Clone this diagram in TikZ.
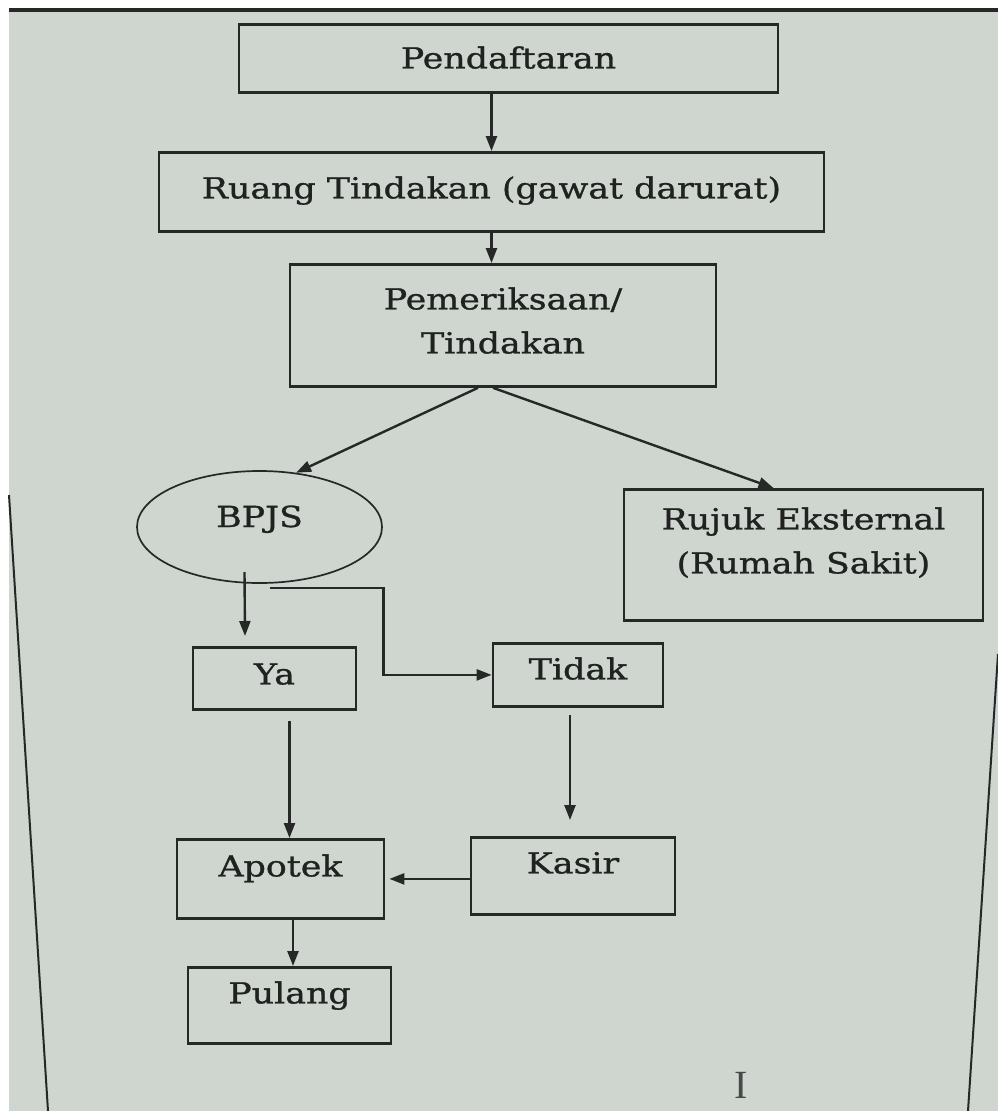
\documentclass[tikz,border=0pt]{standalone}
\usepackage{fontspec}
\usetikzlibrary{arrows.meta,calc,shapes.geometric}
\newfontfamily\diagfont[FakeStretch=1.2,FakeBold=1]{DejaVu Serif}
\newfontfamily\cursfont{Liberation Serif}
\definecolor{bgc}{RGB}{207,213,207}
\definecolor{linec}{RGB}{38,40,40}
\definecolor{txtc}{RGB}{32,33,33}
\tikzset{
  box/.style={draw=linec, line width=2.8pt, inner xsep=0pt, inner ysep=0pt, anchor=north,
    text=txtc, font=\diagfont\fontsize{29}{44}\selectfont},
  oval/.style={ellipse, draw=linec, line width=1.7pt, inner sep=0pt,
    text=txtc, font=\diagfont\fontsize{29}{44}\selectfont},
  arr/.style={draw=linec, line width=2.4pt, -{Triangle[length=15pt,width=11pt]}},
  frame/.style={draw=linec, line width=2pt}
}
\begin{document}
\begin{tikzpicture}[x=1pt,y=-1pt]
\useasboundingbox (0,0) rectangle (998,1111);
\fill[white] (0,0) rectangle (998,1111);
\fill[bgc] (9,8) rectangle (998,1111);
\draw[linec, line width=3.2pt] (9,10) -- (998,10);
\draw[frame] (9,495) -- (48,1111);
\draw[frame] (998,654) -- (968,1111);

\node[box, minimum width=539pt, text height=44pt, text depth=24pt] (pend) at (508.5,23) {Pendaftaran};
\node[box, minimum width=665pt, text height=46pt, text depth=33pt] (ruang) at (491.5,151) {Ruang Tindakan (gawat darurat)};
\node[box, minimum width=426pt, align=center, text height=89pt, text depth=33pt] (pem) at (503,263) {Pemeriksaan/\\Tindakan};
\node[oval, minimum width=245pt, minimum height=112pt, text height=12pt, text depth=12pt] (bpjs) at (259.5,527) {BPJS};
\node[box, minimum width=359pt, align=center, text height=84pt, text depth=47pt] (rujuk) at (803.5,488) {Rujuk Eksternal\\(Rumah Sakit)};
\node[box, minimum width=163pt, text height=37pt, text depth=25pt] (ya) at (274.5,646) {Ya};
\node[box, minimum width=170pt, text height=36pt, text depth=27pt] (tidak) at (578,642) {Tidak};
\node[box, minimum width=207pt, text height=37pt, text depth=42pt] (apotek) at (280.5,838) {Apotek};
\node[box, minimum width=204pt, text height=36pt, text depth=41pt] (kasir) at (573,836) {Kasir};
\node[box, minimum width=203pt, text height=36pt, text depth=40pt] (pulang) at (289.5,966) {Pulang};
\node[text=linec!85, font=\cursfont\fontsize{40}{40}\selectfont, inner sep=0pt] (cur) at (741,1085) {I};

\draw[arr] (pend.south -| ruang.north) -- (ruang.north);
\draw[arr] (ruang.south) -- (ruang.south |- pem.north);
\draw[arr] ($(pem.south)+(-25,0)$) -- (bpjs.56);
\draw[arr] ($(pem.south)+(-10,0)$) -- ($(rujuk.north)+(-30,0)$);
\draw[arr] ($(bpjs.center)+(-15,45)$) -- ($(ya.north)+(-29.5,-10)$);
\coordinate (elb) at ($(bpjs.center)+(10,61)$);
\draw[arr] (elb) -- ++(114,0) |- (tidak.west);
\draw[arr] ($(ya.south)+(15,10)$) -- ($(apotek.north)+(9,0)$);
\draw[arr] ($(tidak.south)+(-8,7)$) -- ($(kasir.north)+(-3,-16)$);
\draw[arr] ($(kasir.west)+(0,3)$) -- ($(apotek.east)+(4,0)$);
\draw[arr] ($(apotek.south)+(12.5,0)$) -- ($(pulang.north)+(3.5,0)$);
\end{tikzpicture}
\end{document}
